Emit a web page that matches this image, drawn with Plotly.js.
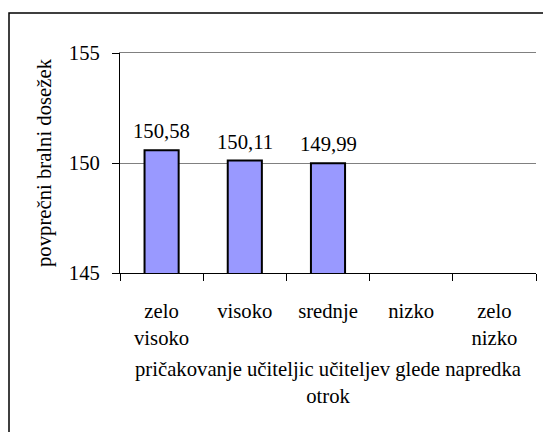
<!DOCTYPE html>
<html>
<head>
<meta charset="utf-8">
<script src="https://cdn.plot.ly/plotly-3.0.1.min.js"></script>
<style>
html,body{margin:0;padding:0;background:#fff;}
#chart{width:543px;height:432px;}
</style>
</head>
<body>
<div id="chart"></div>
<script>
const categories = ['zelo<br>visoko', 'visoko', 'srednje', 'nizko', 'zelo<br>nizko'];
const values = [150.58, 150.11, 149.99, null, null];
const yTicks = [145, 150, 155];
const yTitle = 'povprečni bralni dosežek';
const xTitle = 'pričakovanje učiteljic učiteljev glede napredka<br>otrok';

const FONT = '"Liberation Serif", "Times New Roman", Times, serif';
const FS = 20.7;
const fmt = v => v.toFixed(2).replace('.', ',');

const W = 543, H = 432;
const M = {l: 120, r: 7, t: 53, b: 159};
const pw = W - M.l - M.r, ph = H - M.t - M.b;

const annotations = [];
categories.forEach((c, i) => {
  if (values[i] !== null) {
    annotations.push({
      x: c, y: values[i], xref: 'x', yref: 'y',
      text: fmt(values[i]), showarrow: false,
      yanchor: 'bottom', yshift: 6,
      font: {family: FONT, size: FS, color: '#000'}
    });
  }
});

const trace = {
  type: 'bar',
  x: categories,
  y: values,
  marker: {color: '#9999FF', line: {color: '#000', width: 2}},
  hoverinfo: 'skip'
};

// empty helper trace so the top overlay axis (grey line at the 155 gridline) is drawn
const topAxisTrace = {
  type: 'scatter', mode: 'lines', x: [], y: [],
  xaxis: 'x2', yaxis: 'y', showlegend: false, hoverinfo: 'skip'
};

const layout = {
  width: W, height: H,
  margin: M,
  paper_bgcolor: '#fff', plot_bgcolor: '#fff',
  showlegend: false,
  bargap: 0.59,
  font: {family: FONT, size: FS, color: '#000'},
  xaxis: {
    type: 'category',
    categoryorder: 'array', categoryarray: categories,
    tickson: 'boundaries',
    ticks: 'outside', ticklen: 7, tickcolor: '#000', tickwidth: 1,
    showline: true, linecolor: '#000', linewidth: 1,
    showgrid: false, zeroline: false,
    tickfont: {family: FONT, size: FS, color: '#000'},
    ticklabelstandoff: 19,
    title: {text: xTitle, font: {family: FONT, size: FS, color: '#000'}, standoff: 13},
    automargin: false
  },
  xaxis2: {
    overlaying: 'x', side: 'top', anchor: 'y',
    range: [0, 1], showline: true, linecolor: '#808080', linewidth: 1,
    showticklabels: false, ticks: '', showgrid: false, zeroline: false,
    automargin: false
  },
  yaxis: {
    range: [145, 155],
    tickvals: yTicks,
    ticktext: yTicks.map(String),
    ticks: 'outside', ticklen: 7, tickcolor: '#000', tickwidth: 1,
    showline: true, linecolor: '#000', linewidth: 1,
    showgrid: true, gridcolor: '#808080', gridwidth: 1,
    zeroline: false,
    tickfont: {family: FONT, size: FS, color: '#000'},
    ticklabelstandoff: 8,
    title: {text: yTitle, font: {family: FONT, size: FS, color: '#000'}, standoff: 11},
    automargin: false
  },
  annotations: annotations,
  shapes: [
    {
      type: 'rect', xref: 'paper', yref: 'paper',
      x0: (9 - M.l) / pw, x1: (W + 20 - M.l) / pw,
      y0: (H - M.b - (H + 20)) / ph, y1: (H - M.b - 13) / ph,
      line: {color: '#000', width: 1.5}, fillcolor: 'rgba(0,0,0,0)', layer: 'above'
    }
  ]
};

Plotly.newPlot('chart', [trace, topAxisTrace], layout, {staticPlot: true, displayModeBar: false});
</script>
</body>
</html>
